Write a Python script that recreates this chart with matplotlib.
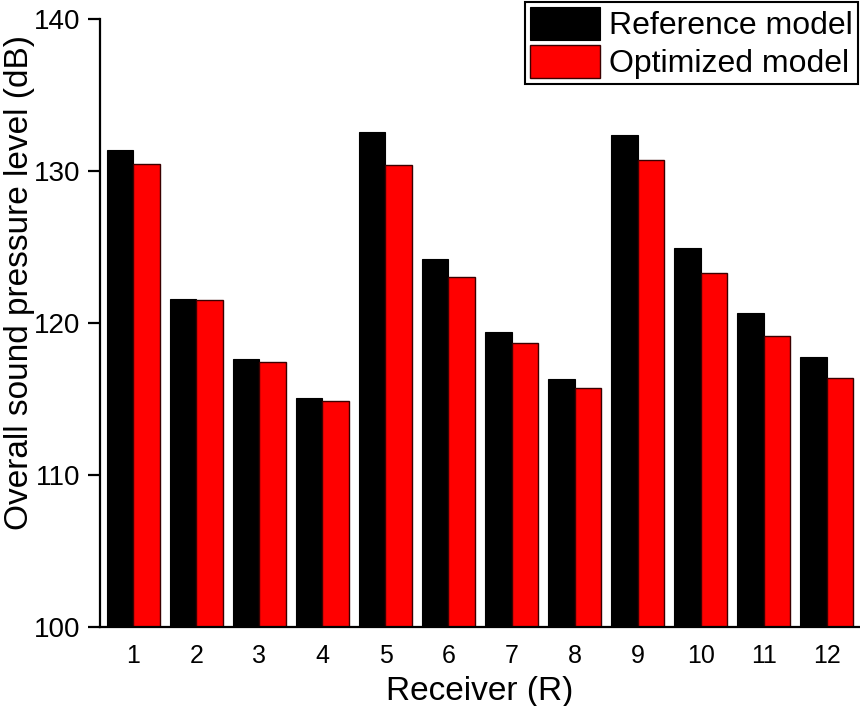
import matplotlib
matplotlib.use("Agg")
import matplotlib.pyplot as plt
import numpy as np

receivers = ["1", "2", "3", "4", "5", "6", "7", "8", "9", "10", "11", "12"]
reference_model = [131.35, 121.55, 117.6, 115.05, 132.55, 124.2, 119.4, 116.3, 132.35, 124.9, 120.65, 117.75]
optimized_model = [130.45, 121.5, 117.4, 114.85, 130.35, 123.0, 118.65, 115.7, 130.7, 123.3, 119.15, 116.4]
y_ticks = [100, 110, 120, 130, 140]

plt.rcParams['font.family'] = ['Liberation Sans', 'DejaVu Sans']

fig = plt.figure(figsize=(8.6, 7.06), dpi=100)
ax = fig.add_axes([100/860, 1-627/706, 1-100/860, (627-18.7)/706])

x = np.arange(1, len(receivers)+1)
w = 0.42
ax.bar(x - w/2, reference_model, width=w, color='black', edgecolor='black', linewidth=0.8,
       label='Reference model')
ax.bar(x + w/2, optimized_model, width=w, color='#ff0000', edgecolor='#3a0000', linewidth=1.0,
       label='Optimized model')

ax.set_ylim(100, 140)
ax.set_xlim(0.47, 12.53)
ax.set_yticks(y_ticks)
ax.set_xticks(x)
ax.set_xticklabels(receivers)

for s in ['top', 'right']:
    ax.spines[s].set_visible(False)
for s in ['left', 'bottom']:
    ax.spines[s].set_linewidth(1.6)
ax.tick_params(axis='y', direction='out', length=9, width=1.6, labelsize=20, pad=5)
ax.tick_params(axis='x', length=0, labelsize=18, pad=12)

ax.set_ylabel('Overall sound pressure level (dB)', fontsize=24)
ax.yaxis.set_label_coords(-0.086, 0.567)
ax.set_xlabel('Receiver (R)', fontsize=24, labelpad=6)

leg = fig.legend(loc='upper right', bbox_to_anchor=(858/860, 1-2/706), fontsize=23,
                 frameon=True, fancybox=False, edgecolor='black', framealpha=1,
                 handlelength=2.2, handleheight=1.2, handletextpad=0.3,
                 labelspacing=0.12, borderpad=0.15, borderaxespad=0)
leg.get_frame().set_linewidth(1.5)

fig.savefig('out.png', dpi=100)
